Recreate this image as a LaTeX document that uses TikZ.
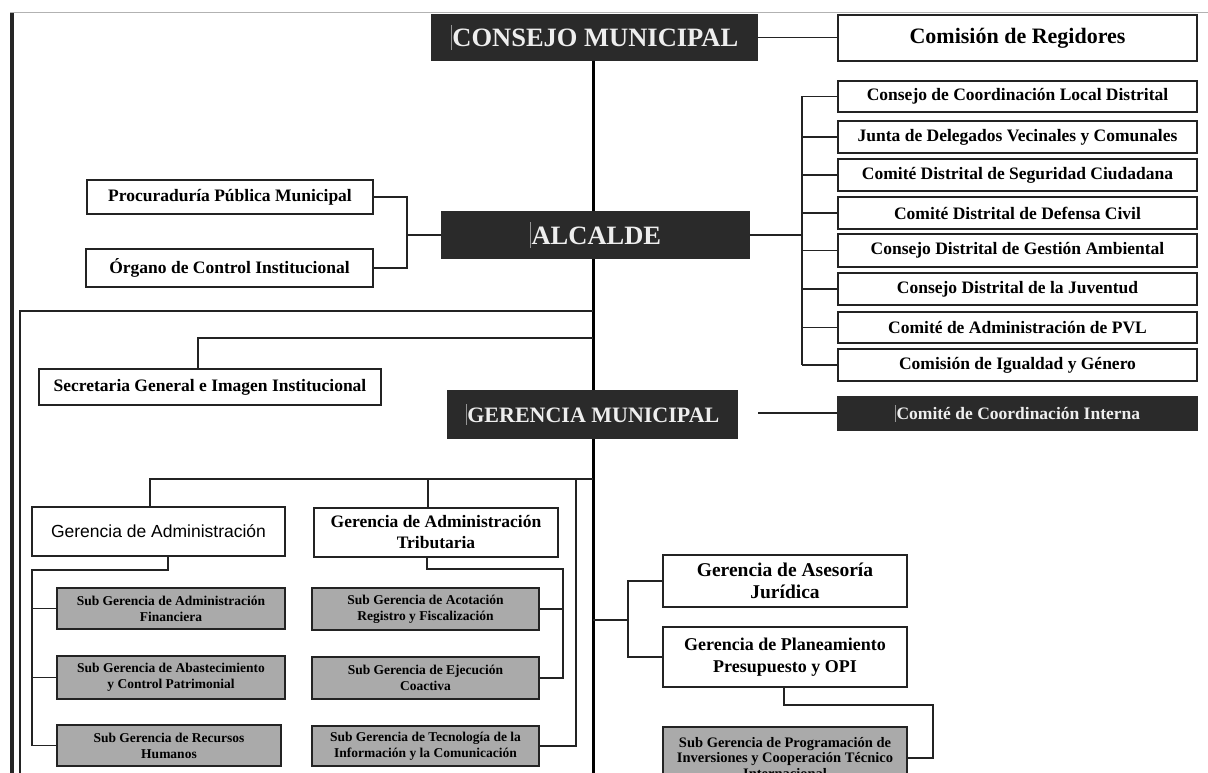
\documentclass[tikz,border=0pt]{standalone}
\usepackage{fontspec}
\setmainfont{Liberation Serif}
\newfontfamily\sansf{Liberation Sans}
\definecolor{darkfill}{RGB}{42,42,42}
\definecolor{subgray}{RGB}{170,170,170}
\definecolor{linec}{RGB}{35,35,35}
\definecolor{headtext}{RGB}{238,238,238}
\definecolor{cursorc}{RGB}{150,150,150}
\newcommand{\curbar}{\textcolor{cursorc}{\rule[-0.12em]{0.7pt}{0.95em}}\hspace{1pt}}
\newcommand{\fhead}{\fontsize{26.5}{30}\selectfont}
\newcommand{\fgm}{\fontsize{22}{26}\selectfont}
\newcommand{\freg}{\fontsize{22}{26}\selectfont}
\newcommand{\fmid}{\fontsize{17.5}{21}\selectfont}
\newcommand{\fases}{\fontsize{19.5}{22}\selectfont}
\newcommand{\fplan}{\fontsize{18}{22}\selectfont}
\newcommand{\fsub}{\fontsize{13.5}{16}\selectfont}
\tikzset{
  box/.style={draw=linec, line width=1.2pt, fill=white, inner sep=0pt, align=center, text=black, font=\bfseries\fmid},
  darkbox/.style={box, fill=darkfill, draw=darkfill, text=headtext},
  subbox/.style={box, fill=subgray, font=\bfseries\fsub},
  conn/.style={draw=linec, line width=1.2pt},
  spine/.style={draw=black, line width=3pt},
}
\begin{document}
\begin{tikzpicture}[x=1pt,y=-1pt]
\useasboundingbox (0,0) rectangle (1208,773);
\clip (0,0) rectangle (1208,773);
\fill[white] (0,0) rectangle (1208,773);
% page edges
\draw[black!30, line width=1pt] (10,13) -- (1208,13);
\draw[black!85, line width=4pt] (12,13) -- (12,773);

% top
\node[darkbox, font=\bfseries\fhead, minimum width=325pt, minimum height=45pt] (consejo) at (594.5,37.5) {\curbar CONSEJO MUNICIPAL};
\coordinate (spinebot) at (593,773);
\draw[spine] (consejo.south -| spinebot) -- (spinebot);

\node[box, font=\bfseries\freg, minimum width=359pt, minimum height=46pt] (regid) at (1017.5,38) {Comisión de Regidores};
\draw[conn] (consejo.east) -- (regid.west |- consejo.east);

% right stack
\node[box, minimum width=359pt, minimum height=31pt] (r1) at (1017.5,96.5) {Consejo de Coordinación Local Distrital};
\node[box, minimum width=359pt, minimum height=32pt] (r2) at (1017.5,137) {Junta de Delegados Vecinales y Comunales};
\node[box, minimum width=359pt, minimum height=32pt] (r3) at (1017.5,175) {Comité Distrital de Seguridad Ciudadana};
\node[box, minimum width=359pt, minimum height=32pt] (r4) at (1017.5,213) {Comité Distrital de Defensa Civil};
\node[box, minimum width=359pt, minimum height=33pt] (r5) at (1017.5,250.5) {Consejo Distrital de Gestión Ambiental};
\node[box, minimum width=359pt, minimum height=32pt] (r6) at (1017.5,289) {Consejo Distrital de la Juventud};
\node[box, minimum width=359pt, minimum height=31pt] (r7) at (1017.5,327.5) {Comité de Administración de PVL};
\node[box, minimum width=359pt, minimum height=32pt] (r8) at (1017.5,365) {Comisión de Igualdad y Género};

% alcalde
\node[darkbox, font=\bfseries\fhead, minimum width=307pt, minimum height=46pt] (alcalde) at (595.5,235) {\curbar ALCALDE};
\coordinate (rbr) at (802,0);
\draw[conn] (alcalde.east) -- (alcalde.east -| rbr);
\draw[conn] (r1.west -| rbr) -- (r8.west -| rbr);
\foreach \n in {r1,r2,r3,r4,r5,r6,r7,r8}{\draw[conn] (\n.west -| rbr) -- (\n.west);}

\node[box, minimum width=286pt, minimum height=34pt] (procur) at (230,197) {Procuraduría Pública Municipal};
\node[box, minimum width=287pt, minimum height=38pt] (organo) at (229.5,268) {Órgano de Control Institucional};
\coordinate (lbr) at (407,0);
\draw[conn] (procur.east) -- (procur.east -| lbr) -- (organo.east -| lbr) -- (organo.east);
\draw[conn] (alcalde.west -| lbr) -- (alcalde.west);

% outer thin line
\coordinate (o1) at (20,311);
\coordinate (o2) at (593,311);
\coordinate (o3) at (20,773);
\draw[conn] (o2) -- (o1) -- (o3);

% secretaria
\node[box, minimum width=342pt, minimum height=36pt] (secre) at (210,387) {Secretaria General e Imagen Institucional};
\coordinate (s1) at (593,338);
\coordinate (s2) at (198,338);
\draw[conn] (s1) -- (s2) -- (s2 |- secre.north);

% gerencia municipal
\node[darkbox, font=\bfseries\fgm, minimum width=289pt, minimum height=47pt] (gm) at (592.5,414.5) {\curbar GERENCIA MUNICIPAL};
\node[darkbox, minimum width=359pt, minimum height=33pt] (cci) at (1017.5,413.5) {\curbar Comité de Coordinación Interna};
\coordinate (gmr) at (758,413);
\draw[conn] (gmr) -- (gmr -| cci.west);

% gerencias
\node[box, font=\sansf\fmid, minimum width=253pt, minimum height=49pt] (ga) at (158.5,531.5) {Gerencia de Administración};
\node[box, minimum width=244pt, minimum height=49pt] (gat) at (436,532.5) {Gerencia de Administración\\Tributaria};

\node[subbox, minimum width=228pt, minimum height=41pt] (sa1) at (171,608.5) {Sub Gerencia de Administración\\Financiera};
\node[subbox, minimum width=228pt, minimum height=43pt] (sa2) at (171,677.5) {Sub Gerencia de Abastecimiento\\y Control Patrimonial};
\node[subbox, minimum width=224pt, minimum height=41pt] (sa3) at (169,745.5) {Sub Gerencia de Recursos\\Humanos};

\node[subbox, minimum width=227pt, minimum height=42pt] (st1) at (425.5,609) {Sub Gerencia de Acotación\\Registro y Fiscalización};
\node[subbox, minimum width=227pt, minimum height=42pt] (st2) at (425.5,678) {Sub Gerencia de Ejecución\\Coactiva};
\node[subbox, minimum width=227pt, minimum height=40pt] (st3) at (425.5,746) {Sub Gerencia de Tecnología de la\\Información y la Comunicación};

\coordinate (g0) at (593,479);
\coordinate (g1) at (150,479);
\coordinate (g2) at (428,479);
\coordinate (g3) at (576,479);
\draw[conn] (g0) -- (g1) -- (g1 |- ga.north);
\draw[conn] (g2) -- (g2 |- gat.north);
\draw[conn] (g3) -- (g3 |- st3.east) -- (st3.east);

\coordinate (a1) at (168,570);
\coordinate (a2) at (32,570);
\draw[conn] (a1 |- ga.south) -- (a1) -- (a2) -- (a2 |- sa3.west) -- (sa3.west);
\draw[conn] (a2 |- sa1.west) -- (sa1.west);
\draw[conn] (a2 |- sa2.west) -- (sa2.west);

\coordinate (t1) at (427,569);
\coordinate (t2) at (563,569);
\draw[conn] (t1 |- gat.south) -- (t1) -- (t2) -- (t2 |- st2.east) -- (st2.east);
\draw[conn] (t2 |- st1.east) -- (st1.east);

% right lower
\node[box, font=\bfseries\fases, minimum width=244pt, minimum height=52pt] (ases) at (785,581) {Gerencia de Asesoría\\Jurídica};
\node[box, font=\bfseries\fplan, minimum width=244pt, minimum height=60pt] (plan) at (785,657) {Gerencia de Planeamiento\\Presupuesto y OPI};
\node[subbox, font=\bfseries\fontsize{14.5}{15.5}\selectfont, minimum width=244pt, minimum height=62pt] (sgp) at (785,758) {Sub Gerencia de Programación de\\Inversiones y Cooperación Técnico\\Internacional};
\coordinate (c0) at (593,620);
\coordinate (c1) at (628,620);
\draw[conn] (c0) -- (c1);
\draw[conn] (ases.west) -- (ases.west -| c1) -- (plan.west -| c1) -- (plan.west);
\coordinate (p1) at (784,705);
\coordinate (p2) at (933,705);
\draw[conn] (p1 |- plan.south) -- (p1) -- (p2) -- (p2 |- sgp.east) -- (sgp.east);
\end{tikzpicture}
\end{document}
